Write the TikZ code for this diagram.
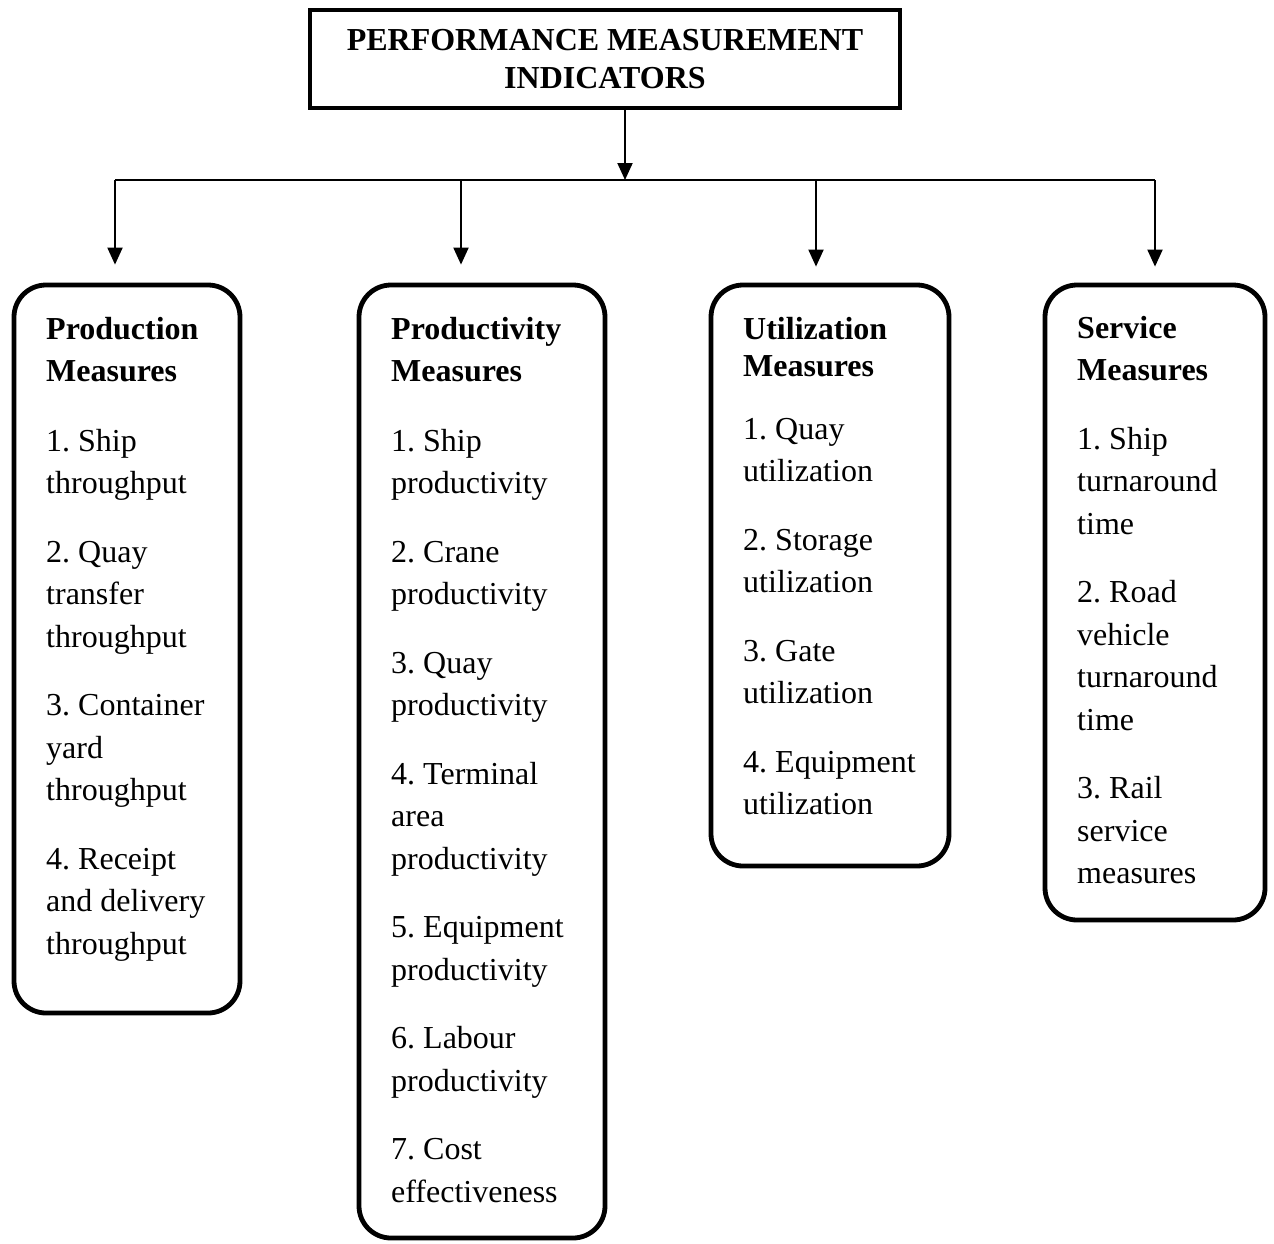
\documentclass[tikz,border=0pt]{standalone}
\usepackage{fontspec}
\setmainfont{Liberation Serif}
\usetikzlibrary{arrows.meta}
\frenchspacing
\begin{document}
\begin{tikzpicture}[x=1pt,y=-1pt,
  box/.style={draw,line width=4.8pt,rounded corners=32pt,inner sep=0pt},
  titlebox/.style={draw,line width=4pt,inner sep=0pt,align=center,font=\fontsize{32}{38}\selectfont\bfseries},
  txt/.style={anchor=base west,inner sep=0pt,align=left,font=\fontsize{32}{42.5}\selectfont\frenchspacing},
  link/.style={line width=2pt},
  arr/.style={line width=2pt,-{Triangle[length=17pt,width=15pt]}}]
\useasboundingbox (0,0) rectangle (1274,1243);

\node[titlebox,minimum width=590pt,minimum height=98pt] (title) at (605,59)
  {PERFORMANCE MEASUREMENT\\INDICATORS};

\node[box,minimum width=226pt,minimum height=728pt] (b1) at (127,649) {};
\node[box,minimum width=246pt,minimum height=953pt] (b2) at (482,761.5) {};
\node[box,minimum width=238pt,minimum height=581pt] (b3) at (830,575.5) {};
\node[box,minimum width=220pt,minimum height=635pt] (b4) at (1155,602.5) {};

% anchor is the baseline of the last line
\node[txt] (t1) at (46,954) {\textbf{Production}\\\textbf{Measures}\\[27pt]1. Ship\\throughput\\[26pt]2. Quay\\transfer\\throughput\\[26pt]3. Container\\yard\\throughput\\[26pt]4. Receipt\\and delivery\\throughput};
\node[txt] (t2) at (391,1202) {\textbf{Productivity}\\\textbf{Measures}\\[27pt]1. Ship\\productivity\\[26pt]2. Crane\\productivity\\[26pt]3. Quay\\productivity\\[26pt]4. Terminal\\area\\productivity\\[26pt]5. Equipment\\productivity\\[26pt]6. Labour\\productivity\\[26pt]7. Cost\\effectiveness};
\node[txt] (t3) at (743,814.5) {\textbf{Utilization}\\[-5.5pt]\textbf{Measures}\\[20.5pt]1. Quay\\utilization\\[26pt]2. Storage\\utilization\\[26pt]3. Gate\\utilization\\[26pt]4. Equipment\\utilization};
\node[txt] (t4) at (1077,883.5) {\textbf{Service}\\\textbf{Measures}\\[26pt]1. Ship\\turnaround\\time\\[26pt]2. Road\\vehicle\\turnaround\\time\\[26pt]3. Rail\\service\\measures};

\coordinate (hub) at (625,180);
\coordinate (j1) at (115,180);
\coordinate (j2) at (461,180);
\coordinate (j3) at (816,180);
\coordinate (j4) at (1155,180);

\draw[arr] (title.south -| hub) -- (hub);
\draw[link] (j1) -- (j4);
\draw[arr,shorten >=18pt] (j1) -- (j1 |- b1.north);
\draw[arr,shorten >=18pt] (j2) -- (j2 |- b2.north);
\draw[arr,shorten >=16pt] (j3) -- (j3 |- b3.north);
\draw[arr,shorten >=16pt] (j4) -- (j4 |- b4.north);
\end{tikzpicture}
\end{document}
